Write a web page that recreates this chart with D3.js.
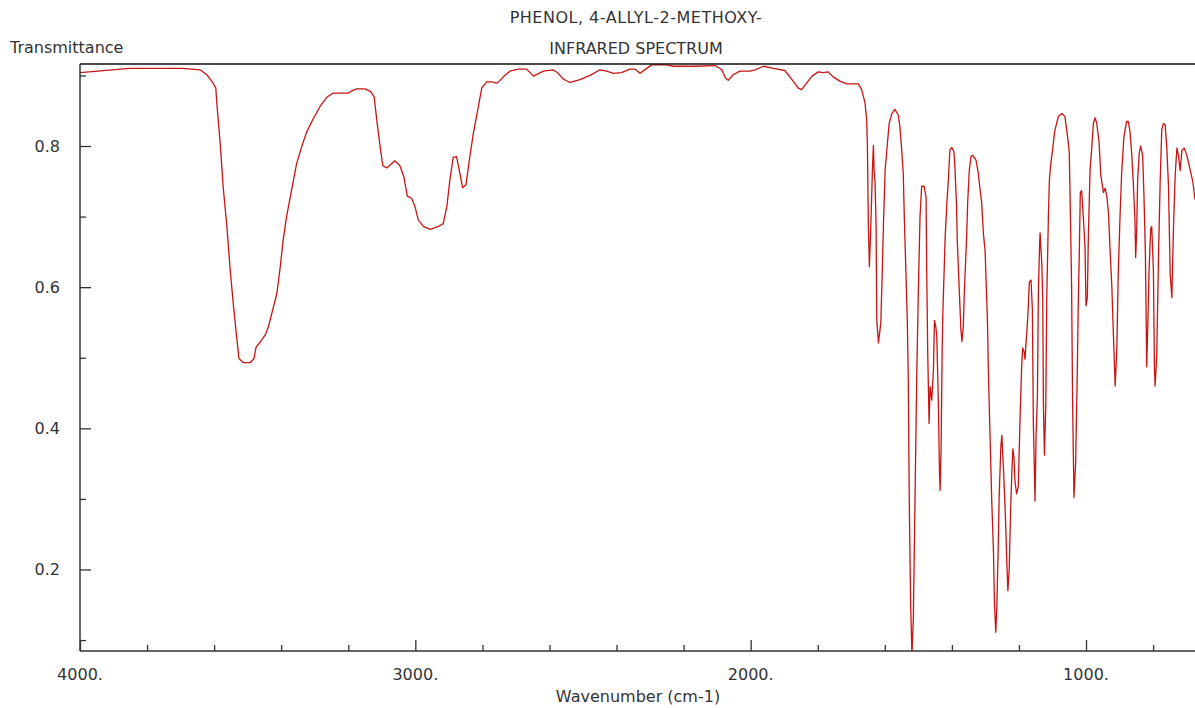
<!DOCTYPE html>
<html>
<head>
<meta charset="utf-8">
<script src="https://cdn.jsdelivr.net/npm/d3@7"></script>
<style>
  html, body { margin: 0; padding: 0; background: #fff; }
  svg { display: block; }
  text { font-family: "DejaVu Sans", sans-serif; fill: #333; }
</style>
</head>
<body>
<svg id="chart" width="1195" height="708"></svg>
<script>
// ---- data ----
const titleLines = ["PHENOL, 4-ALLYL-2-METHOXY-", "INFRARED SPECTRUM"];
const yAxisTitle = "Transmittance";
const xAxisTitle = "Wavenumber (cm-1)";

const xMajorTicks = [4000, 3000, 2000, 1000];
const xMajorLabels = ["4000.", "3000.", "2000.", "1000."];
const xMinorTicks = [3800, 3600, 3400, 3200, 2800, 2600, 2400, 2200, 1800, 1600, 1400, 1200, 800];
const yMajorTicks = [0.2, 0.4, 0.6, 0.8];
const yMajorLabels = ["0.2", "0.4", "0.6", "0.8"];
const yMinorTicks = [0.1, 0.3, 0.5, 0.7, 0.9];

const wavenumber = [
  4000, 3851, 3693, 3642, 3622, 3603, 3595, 3592, 3582, 3573, 3562, 3553, 3543, 3533, 3526, 3513, 3493, 3481, 3475, 3463,
  3448, 3438, 3428, 3413, 3404, 3394, 3384, 3369, 3354, 3339, 3324, 3304, 3284, 3264, 3245, 3200, 3190, 3175, 3150, 3133,
  3123, 3115, 3105, 3097, 3085, 3061, 3046, 3034, 3024, 3011, 3001, 2991, 2976, 2956, 2931, 2917, 2906, 2897, 2887, 2877,
  2867, 2859, 2849, 2839, 2827, 2812, 2802, 2787, 2772, 2757, 2747, 2738, 2718, 2693, 2668, 2648, 2618, 2589, 2574, 2559,
  2539, 2509, 2479, 2449, 2429, 2410, 2385, 2360, 2345, 2330, 2310, 2295, 2270, 2250, 2231, 2171, 2106, 2086, 2076, 2067,
  2052, 2032, 2002, 1987, 1962, 1932, 1898, 1883, 1858, 1848, 1835, 1817, 1799, 1784, 1769, 1754, 1734, 1713, 1679, 1669,
  1659, 1654, 1652, 1649, 1646, 1641, 1637, 1634, 1632, 1629, 1626, 1624, 1619, 1612, 1608, 1604, 1599, 1594, 1587, 1579,
  1570, 1560, 1555, 1550, 1545, 1542, 1537, 1533, 1530, 1527, 1523, 1519, 1515, 1510, 1505, 1500, 1495, 1490, 1483, 1477,
  1475, 1472, 1468, 1465, 1460, 1455, 1452, 1448, 1445, 1440, 1437, 1435, 1432, 1429, 1427, 1420, 1415, 1410, 1406, 1400,
  1394, 1391, 1386, 1384, 1378, 1373, 1370, 1366, 1363, 1356, 1353, 1348, 1343, 1338, 1328, 1321, 1316, 1311, 1306, 1301,
  1298, 1294, 1291, 1288, 1284, 1281, 1276, 1273, 1269, 1266, 1262, 1259, 1254, 1251, 1246, 1241, 1236, 1233, 1229, 1225,
  1221, 1218, 1215, 1212, 1207, 1202, 1197, 1192, 1189, 1185, 1182, 1179, 1175, 1172, 1169, 1164, 1160, 1157, 1152, 1149,
  1145, 1142, 1139, 1137, 1132, 1129, 1127, 1124, 1120, 1117, 1112, 1109, 1105, 1099, 1094, 1089, 1082, 1072, 1063, 1055,
  1050, 1046, 1043, 1040, 1036, 1031, 1026, 1023, 1020, 1017, 1013, 1008, 1003, 1000, 996, 993, 988, 983, 978, 973,
  968, 961, 956, 948, 943, 938, 933, 928, 923, 919, 913, 908, 904, 899, 894, 887, 879, 874, 869, 864,
  859, 854, 852, 849, 846, 841, 837, 831, 827, 823, 819, 816, 812, 807, 804, 799, 796, 794, 789, 784,
  779, 774, 769, 764, 759, 754, 749, 744, 739, 734, 729, 724, 719, 714, 707, 699, 689, 681, 675
];
const transmittance = [
  0.904, 0.910, 0.910, 0.908, 0.901, 0.889, 0.882, 0.861, 0.804, 0.742, 0.686, 0.629, 0.577, 0.530, 0.499, 0.493, 0.493, 0.499, 0.515, 0.522,
  0.532, 0.544, 0.563, 0.591, 0.624, 0.667, 0.700, 0.738, 0.775, 0.799, 0.820, 0.839, 0.856, 0.869, 0.875, 0.875, 0.878, 0.881, 0.881, 0.877,
  0.870, 0.837, 0.799, 0.772, 0.769, 0.779, 0.772, 0.756, 0.729, 0.726, 0.714, 0.695, 0.686, 0.682, 0.686, 0.690, 0.714, 0.752, 0.784, 0.785,
  0.761, 0.741, 0.745, 0.780, 0.818, 0.856, 0.882, 0.891, 0.891, 0.889, 0.893, 0.898, 0.906, 0.909, 0.909, 0.899, 0.906, 0.908, 0.903, 0.895,
  0.890, 0.894, 0.900, 0.908, 0.906, 0.903, 0.904, 0.909, 0.909, 0.903, 0.910, 0.915, 0.915, 0.915, 0.913, 0.913, 0.914, 0.908, 0.897, 0.893,
  0.901, 0.906, 0.906, 0.908, 0.913, 0.910, 0.907, 0.898, 0.882, 0.880, 0.888, 0.899, 0.905, 0.904, 0.905, 0.898, 0.892, 0.888, 0.888, 0.880,
  0.861, 0.837, 0.804, 0.686, 0.629, 0.698, 0.766, 0.801, 0.766, 0.748, 0.686, 0.553, 0.521, 0.549, 0.615, 0.690, 0.766, 0.794, 0.832, 0.846,
  0.852, 0.844, 0.827, 0.797, 0.761, 0.702, 0.620, 0.553, 0.468, 0.293, 0.151, 0.080, 0.130, 0.296, 0.468, 0.596, 0.700, 0.743, 0.743, 0.728,
  0.620, 0.506, 0.407, 0.459, 0.440, 0.482, 0.553, 0.544, 0.530, 0.430, 0.338, 0.312, 0.374, 0.511, 0.563, 0.671, 0.719, 0.756, 0.794, 0.798,
  0.792, 0.771, 0.714, 0.667, 0.596, 0.539, 0.523, 0.544, 0.591, 0.671, 0.719, 0.766, 0.785, 0.787, 0.780, 0.761, 0.738, 0.719, 0.676, 0.652,
  0.610, 0.553, 0.478, 0.421, 0.350, 0.296, 0.225, 0.151, 0.111, 0.147, 0.227, 0.303, 0.374, 0.390, 0.341, 0.284, 0.208, 0.170, 0.201, 0.281,
  0.340, 0.371, 0.359, 0.326, 0.307, 0.317, 0.409, 0.487, 0.514, 0.509, 0.498, 0.520, 0.547, 0.574, 0.607, 0.610, 0.569, 0.406, 0.297, 0.389,
  0.444, 0.596, 0.650, 0.677, 0.634, 0.585, 0.433, 0.362, 0.433, 0.585, 0.705, 0.754, 0.775, 0.797, 0.819, 0.830, 0.842, 0.846, 0.842, 0.813,
  0.792, 0.688, 0.601, 0.438, 0.302, 0.351, 0.479, 0.580, 0.650, 0.734, 0.737, 0.699, 0.656, 0.574, 0.585, 0.672, 0.765, 0.797, 0.832, 0.840,
  0.832, 0.805, 0.759, 0.734, 0.740, 0.729, 0.705, 0.650, 0.601, 0.542, 0.460, 0.514, 0.618, 0.694, 0.759, 0.813, 0.835, 0.835, 0.821, 0.791,
  0.748, 0.694, 0.642, 0.677, 0.753, 0.791, 0.800, 0.786, 0.726, 0.650, 0.487, 0.542, 0.623, 0.683, 0.686, 0.623, 0.487, 0.460, 0.504, 0.640,
  0.748, 0.824, 0.832, 0.830, 0.797, 0.743, 0.618, 0.585, 0.688, 0.759, 0.797, 0.786, 0.765, 0.794, 0.797, 0.786, 0.765, 0.748, 0.724
];

// ---- layout ----
const svg = d3.select("#chart");
const plotLeft = 80, plotRight = 1195, plotTop = 64, plotBottom = 651;

const x = d3.scaleLinear().domain([4000, 675]).range([plotLeft, plotRight]);
const y = d3.scaleLinear().domain([0.0845, 0.9162]).range([plotBottom, plotTop]);

const axisColor = "#333";
const fontSize = 16;

// clip
svg.append("defs").append("clipPath").attr("id", "plotClip")
  .append("rect").attr("x", plotLeft).attr("y", plotTop)
  .attr("width", plotRight - plotLeft).attr("height", plotBottom - plotTop);

// spectrum line
const points = wavenumber.map((w, i) => [w, transmittance[i]]);
const line = d3.line().x(d => x(d[0])).y(d => y(d[1])).curve(d3.curveLinear);
svg.append("path")
  .datum(points)
  .attr("clip-path", "url(#plotClip)")
  .attr("d", line)
  .attr("fill", "none")
  .attr("stroke", "#c81414")
  .attr("stroke-width", 1.3)
  .attr("stroke-linejoin", "round");

// frame: left axis, bottom axis, top border
svg.append("line").attr("x1", plotLeft).attr("x2", plotLeft).attr("y1", plotTop).attr("y2", plotBottom)
  .attr("stroke", axisColor).attr("stroke-width", 1.5);
svg.append("line").attr("x1", plotLeft).attr("x2", plotRight).attr("y1", plotBottom).attr("y2", plotBottom)
  .attr("stroke", axisColor).attr("stroke-width", 1.5);
svg.append("line").attr("x1", plotLeft).attr("x2", plotRight).attr("y1", plotTop).attr("y2", plotTop)
  .attr("stroke", "#111").attr("stroke-width", 1.5);

// x ticks (inward)
const xAxisMajor = d3.axisTop(x).tickValues(xMajorTicks).tickSize(11).tickFormat("");
const xAxisMinor = d3.axisTop(x).tickValues(xMinorTicks).tickSize(6).tickFormat("");
[xAxisMajor, xAxisMinor].forEach(ax => {
  const g = svg.append("g").attr("transform", `translate(0,${plotBottom})`).call(ax);
  g.select(".domain").remove();
  g.selectAll("line").attr("stroke", axisColor).attr("stroke-width", 1.3);
});
svg.append("g").selectAll("text").data(xMajorTicks).join("text")
  .attr("x", d => x(d)).attr("y", 680)
  .attr("text-anchor", "middle").attr("font-size", fontSize)
  .text((d, i) => xMajorLabels[i]);

// y ticks (inward)
const yAxisMajor = d3.axisRight(y).tickValues(yMajorTicks).tickSize(11).tickFormat("");
const yAxisMinor = d3.axisRight(y).tickValues(yMinorTicks).tickSize(6).tickFormat("");
[yAxisMajor, yAxisMinor].forEach(ax => {
  const g = svg.append("g").attr("transform", `translate(${plotLeft},0)`).call(ax);
  g.select(".domain").remove();
  g.selectAll("line").attr("stroke", axisColor).attr("stroke-width", 1.3);
});
svg.append("g").selectAll("text").data(yMajorTicks).join("text")
  .attr("x", 60).attr("y", d => y(d)).attr("dy", "0.36em")
  .attr("text-anchor", "end").attr("font-size", fontSize)
  .text((d, i) => yMajorLabels[i]);

// titles
svg.append("text").attr("x", 10).attr("y", 52.5).attr("font-size", fontSize).text(yAxisTitle);
svg.append("text").attr("x", 638).attr("y", 702).attr("text-anchor", "middle").attr("font-size", fontSize).text(xAxisTitle);
titleLines.forEach((t, i) => {
  svg.append("text").attr("x", 636).attr("y", 22.5 + i * 31).attr("text-anchor", "middle")
    .attr("font-size", fontSize)
    .attr("letter-spacing", i === 0 ? 0.5 : 0)
    .text(t);
});
</script>
</body>
</html>
